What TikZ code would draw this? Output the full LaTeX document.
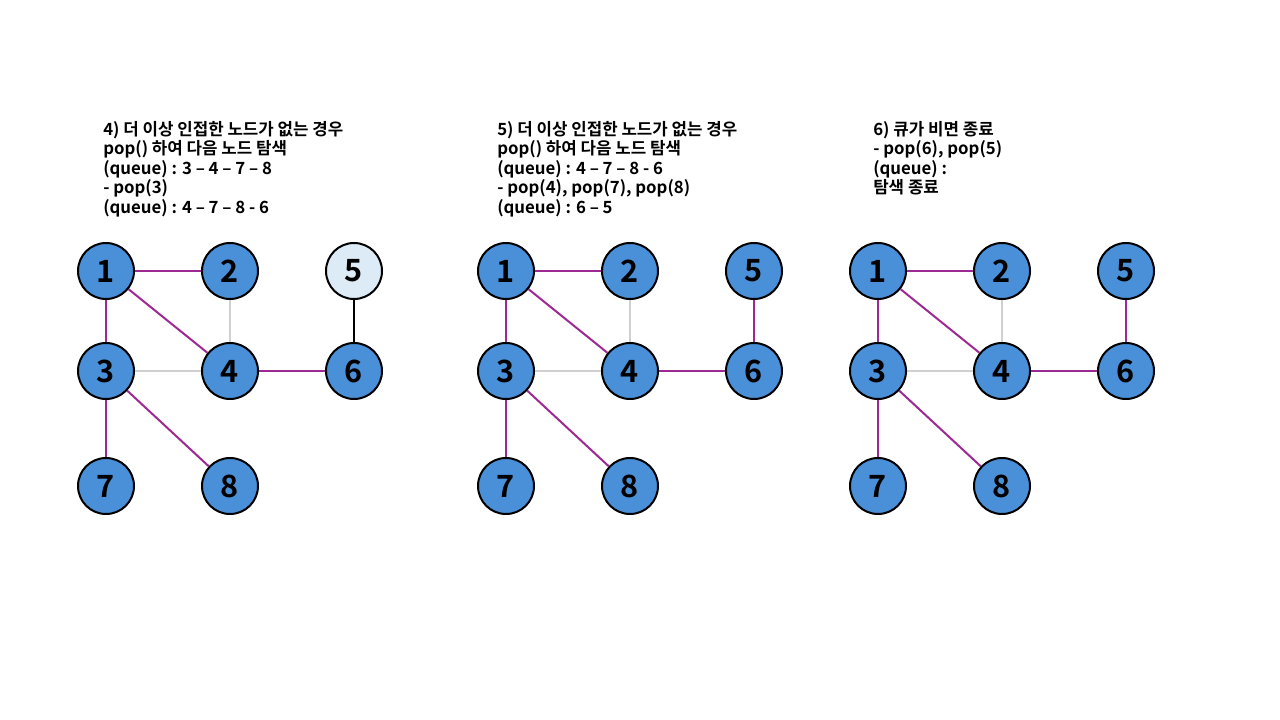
\documentclass[tikz,border=0pt]{standalone}
\usepackage{fontspec}
\newfontfamily\kr{Noto Sans CJK KR Bold}
\usetikzlibrary{backgrounds}
\definecolor{nodeblue}{HTML}{4A90D9}
\definecolor{nodelight}{HTML}{DDEBF7}
\definecolor{edgepurple}{HTML}{9C2A92}
\definecolor{edgegrey}{HTML}{D0D0D0}
\tikzset{
  gnode/.style={circle, draw=black, line width=1.5pt, fill=nodeblue, minimum size=42pt, inner sep=0pt, font=\kr\fontsize{23}{24}\selectfont},
  lightnode/.style={gnode, fill=nodelight},
  pedge/.style={draw=edgepurple, line width=1.5pt},
  gedge/.style={draw=edgegrey, line width=1.5pt},
  bedge/.style={draw=black, line width=1.5pt},
  infotext/.style={anchor=north west, inner sep=0pt, align=left, font=\kr\fontsize{12.6}{14.6}\selectfont}
}
\newcommand{\drawgraph}[4]{%
  \begin{scope}[xshift=#2*0.75pt]
  \node[gnode] (#1n1) at (106,271) {1};
  \node[gnode] (#1n2) at (230,271) {2};
  \node[#3] (#1n5) at (354,271) {5};
  \node[gnode] (#1n3) at (106,371) {3};
  \node[gnode] (#1n4) at (230,371) {4};
  \node[gnode] (#1n6) at (354,371) {6};
  \node[gnode] (#1n7) at (106,486) {7};
  \node[gnode] (#1n8) at (230,486) {8};
  \begin{scope}[on background layer]
  \draw[pedge] (#1n1) -- (#1n2);
  \draw[pedge] (#1n1) -- (#1n3);
  \draw[pedge] (#1n1) -- (#1n4);
  \draw[gedge] (#1n2) -- (#1n4);
  \draw[gedge] (#1n3) -- (#1n4);
  \draw[pedge] (#1n3) -- (#1n7);
  \draw[pedge] (#1n3) -- (#1n8);
  \draw[pedge] (#1n4) -- (#1n6);
  \draw[#4] (#1n5) -- (#1n6);
  \end{scope}
  \end{scope}}
\begin{document}
\begin{tikzpicture}[x=0.75pt,y=-0.75pt]
\begin{scope}[on background layer]
\fill[white] (0,0) rectangle (1280,720);
\end{scope}
\useasboundingbox (0,0) rectangle (1280,720);
\drawgraph{a}{0}{lightnode}{bedge}
\drawgraph{b}{400}{gnode}{pedge}
\drawgraph{c}{772}{gnode}{pedge}
\node[infotext] (ta) at (103,121) {4) 더 이상 인접한 노드가 없는 경우\\pop() 하여 다음 노드 탐색\\(queue) : 3 – 4 – 7 – 8\\- pop(3)\\(queue) : 4 – 7 – 8 - 6};
\node[infotext] (tb) at (497,121) {5) 더 이상 인접한 노드가 없는 경우\\pop() 하여 다음 노드 탐색\\(queue) : 4 – 7 – 8 - 6\\- pop(4), pop(7), pop(8)\\(queue) : 6 – 5};
\node[infotext] (tc) at (873,121) {6) 큐가 비면 종료\\- pop(6), pop(5)\\(queue) :\\탐색 종료};
\end{tikzpicture}
\end{document}
